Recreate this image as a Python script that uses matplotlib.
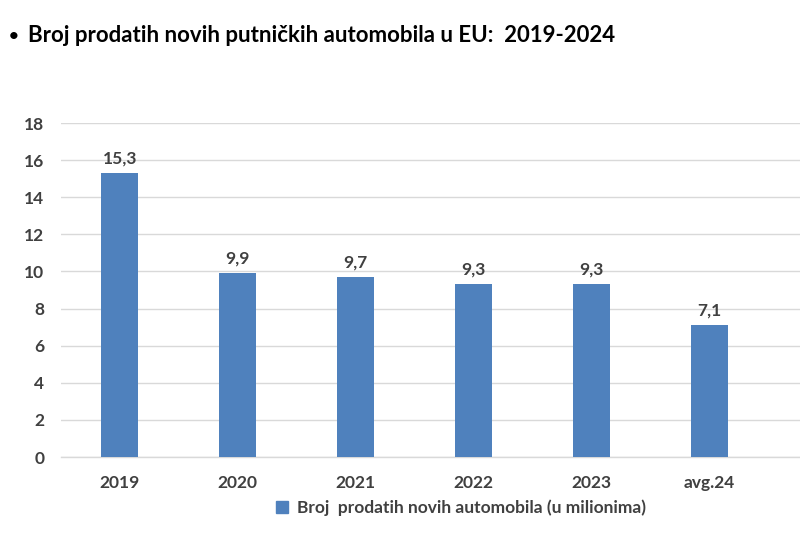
import matplotlib.pyplot as plt
from matplotlib.patches import Patch

plt.rcParams.update(
    {
        "font.family": ["Lato", "DejaVu Sans"],
        "font.weight": "bold",
        "figure.facecolor": "white",
        "axes.facecolor": "white",
    }
)

categories = ["2019", "2020", "2021", "2022", "2023", "avg.24"]
values = [15.3, 9.9, 9.7, 9.3, 9.3, 7.1]
value_labels = ["15,3", "9,9", "9,7", "9,3", "9,3", "7,1"]
y_ticks = [0, 2, 4, 6, 8, 10, 12, 14, 16, 18]

BAR = "#4f81bd"
GRID = "#d9d9d9"
TXT = "#404040"


def main():
    fig = plt.figure(figsize=(8.0, 5.33), dpi=100)
    ax = fig.add_axes([61 / 800, 1 - 457 / 533, 1 - 61 / 800, (457 - 123) / 533])

    x = list(range(len(categories)))
    ax.bar(x, values, width=0.314, color=BAR, zorder=3)

    for xi, v, lab in zip(x, values, value_labels):
        ax.text(xi, v + 0.35, lab, ha="center", va="bottom", fontsize=12.5,
                fontweight="bold", color=TXT, zorder=4)

    ax.set_xlim(-0.5, 5.77)
    ax.set_ylim(0, 18)
    ax.set_yticks(y_ticks)
    ax.set_xticks(x)
    ax.set_xticklabels(categories)
    ax.yaxis.grid(True, color=GRID, lw=1.0, zorder=0)
    ax.set_axisbelow(True)
    for side in ["top", "right", "left"]:
        ax.spines[side].set_visible(False)
    ax.spines["bottom"].set_color(GRID)
    ax.spines["bottom"].set_linewidth(1.0)
    ax.tick_params(axis="both", length=0, labelsize=12.5, colors=TXT)
    ax.tick_params(axis="x", pad=13)
    ax.tick_params(axis="y", pad=12)
    for t in ax.get_xticklabels() + ax.get_yticklabels():
        t.set_fontweight("bold")

    fig.text(9 / 800, 1 - 36 / 533, "\u2022", ha="left", va="center",
             fontsize=12, fontweight="bold", color="black")
    fig.text(28 / 800, 1 - 36 / 533, "Broj prodatih novih putničkih automobila u EU:  2019-2024",
             ha="left", va="center", fontsize=16, fontweight="bold", color="black")

    handle = Patch(facecolor=BAR, edgecolor=BAR)
    fig.legend([handle], ["Broj  prodatih novih automobila (u milionima)"],
               loc="center", bbox_to_anchor=(461 / 800, 1 - 508 / 533), frameon=False,
               prop={"size": 12.5, "weight": "bold"}, labelcolor=TXT,
               handlelength=0.7, handleheight=0.7, handletextpad=0.5)

    fig.savefig("out.png", dpi=100)


if __name__ == "__main__":
    main()
